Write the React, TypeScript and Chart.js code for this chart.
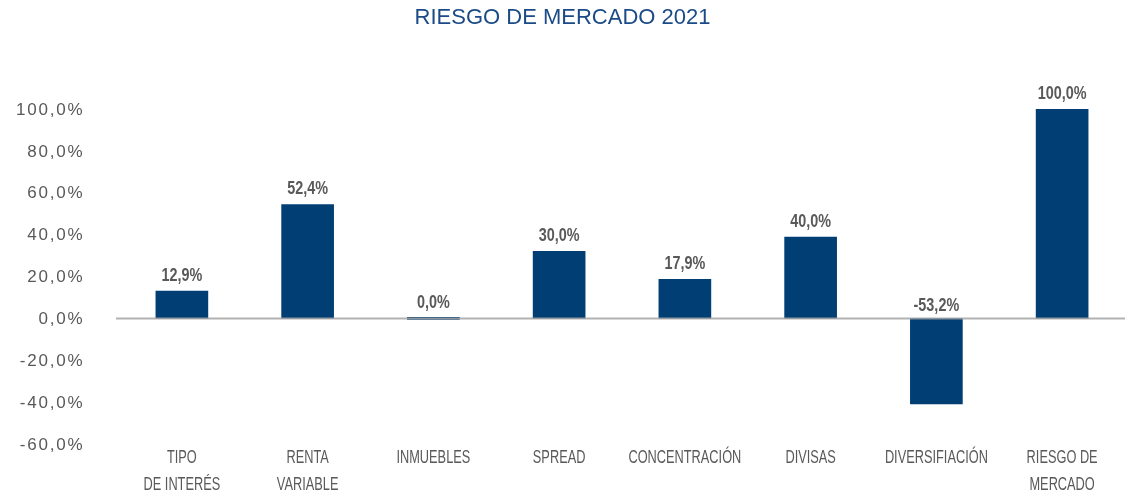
import React, { useEffect, useRef } from 'react';
import { Chart, registerables } from 'chart.js';

Chart.register(...registerables);

const chartTitle = 'RIESGO DE MERCADO 2021';
const categories: string[][] = [
  ['TIPO', 'DE INTERÉS'],
  ['RENTA', 'VARIABLE'],
  ['INMUEBLES'],
  ['SPREAD'],
  ['CONCENTRACIÓN'],
  ['DIVISAS'],
  ['DIVERSIFIACIÓN'],
  ['RIESGO DE', 'MERCADO'],
];
// bar heights as drawn in the picture
const barValues = [13.0, 54.4, 0, 32.0, 18.6, 38.8, -40.9, 100];
// value labels printed above the bars
const labelValues = [12.9, 52.4, 0.0, 30.0, 17.9, 40.0, -53.2, 100.0];
const yMin = -60;
const yMax = 100;
const yStep = 20;

const fmt = (v: number) => v.toFixed(1).replace('.', ',') + '%';

const BAR_COLOR = '#003e74';
const TEXT_GRAY = '#595959';
const TITLE_COLOR = '#1a4b86';
const SANS = "'Liberation Sans', Arial, sans-serif";

const overlayPlugin = {
  id: 'overlay',
  afterDatasetsDraw(chart: any) {
    const ctx = chart.ctx as CanvasRenderingContext2D;
    const y = chart.scales.y;
    const area = chart.chartArea;
    const zero = y.getPixelForValue(0);
    // zero line
    ctx.save();
    ctx.strokeStyle = 'rgba(165,165,165,0.85)';
    ctx.lineWidth = 2;
    ctx.beginPath();
    ctx.moveTo(area.left - 3, zero);
    ctx.lineTo(area.right, zero);
    ctx.stroke();
    // data labels (condensed bold)
    const meta = chart.getDatasetMeta(0);
    ctx.font = `bold 18px ${SANS}`;
    ctx.fillStyle = TEXT_GRAY;
    ctx.textAlign = 'center';
    ctx.textBaseline = 'alphabetic';
    meta.data.forEach((el: any, i: number) => {
      const v = barValues[i];
      const ty = v >= 0 ? Math.min(el.y, zero) - 10.5 : zero - 7.7;
      ctx.save();
      ctx.translate(el.x, ty);
      ctx.scale(0.8, 1);
      ctx.fillText(fmt(labelValues[i]), 0, 0);
      ctx.restore();
    });
    ctx.restore();
  },
  afterDraw(chart: any) {
    const ctx = chart.ctx as CanvasRenderingContext2D;
    const y = chart.scales.y;
    const x = chart.scales.x;
    ctx.save();
    // y tick labels
    ctx.font = `17px ${SANS}`;
    ctx.fillStyle = TEXT_GRAY;
    ctx.textAlign = 'right';
    ctx.textBaseline = 'middle';
    (ctx as any).letterSpacing = '1.8px';
    y.ticks.forEach((t: any) => {
      ctx.fillText(fmt(t.value), 84.5, y.getPixelForValue(t.value) + 1);
    });
    (ctx as any).letterSpacing = '0px';
    // x category labels (condensed)
    ctx.font = `18px ${SANS}`;
    ctx.textAlign = 'center';
    ctx.textBaseline = 'alphabetic';
    categories.forEach((lines, i) => {
      const px = x.getPixelForTick(i);
      lines.forEach((line, j) => {
        ctx.save();
        ctx.translate(px, x.top + 19 + j * 26.7);
        ctx.scale(0.71, 1);
        ctx.fillText(line, 0, 0);
        ctx.restore();
      });
    });
    ctx.restore();
  },
};

export default function App() {
  const ref = useRef<HTMLCanvasElement>(null);
  useEffect(() => {
    if (!ref.current) return;
    const chart = new Chart(ref.current, {
      type: 'bar',
      data: {
        labels: categories.map((c) => c.join(' ')),
        datasets: [
          {
            data: barValues,
            backgroundColor: BAR_COLOR,
            borderWidth: 0,
            barThickness: 52,
            minBarLength: 2,
          },
        ],
      },
      options: {
        responsive: false,
        animation: false,
        layout: { padding: 0 },
        plugins: {
          legend: { display: false },
          tooltip: { enabled: false },
          title: {
            display: true,
            text: chartTitle,
            color: TITLE_COLOR,
            font: { family: SANS, size: 22, weight: 'normal', lineHeight: 1.2 },
            padding: { top: 5, bottom: 77.6 },
          },
        },
        scales: {
          x: {
            grid: { display: false },
            border: { display: false },
            ticks: { display: false },
            afterFit: (s: any) => {
              s.height = 52;
            },
          },
          y: {
            min: yMin,
            max: yMax,
            grid: { display: false },
            border: { display: false },
            ticks: { display: false, stepSize: yStep },
            afterFit: (s: any) => {
              s.width = 119;
            },
          },
        },
      },
      plugins: [overlayPlugin],
    });
    return () => chart.destroy();
  }, []);
  return (
    <div style={{ position: 'absolute', left: 0, top: 0, width: 1125, height: 496, background: '#fff' }}>
      <canvas ref={ref} width={1125} height={496} />
    </div>
  );
}
